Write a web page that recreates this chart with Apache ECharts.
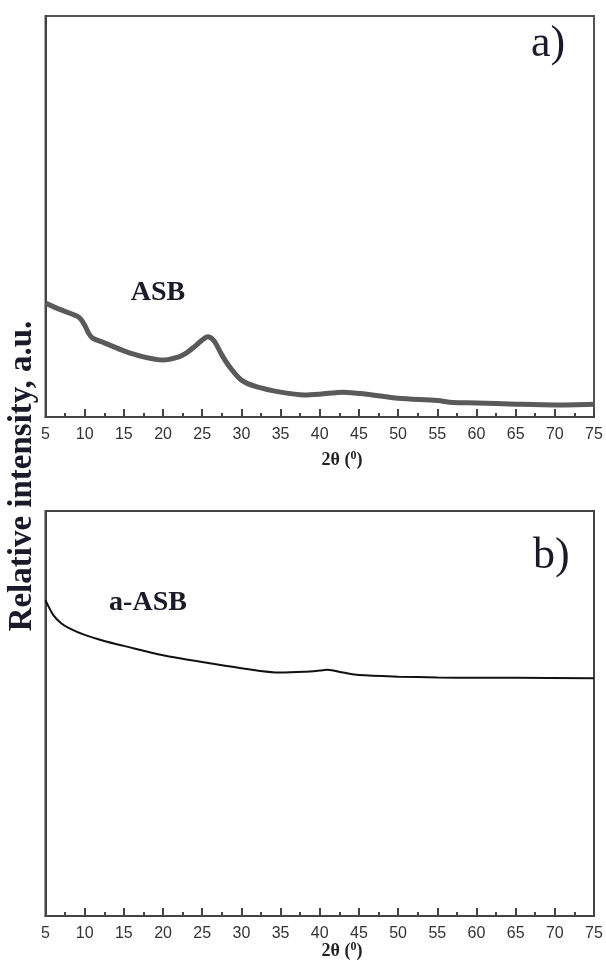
<!DOCTYPE html>
<html>
<head>
<meta charset="utf-8">
<script src="https://cdn.jsdelivr.net/npm/echarts@6/dist/echarts.min.js"></script>
<style>
    html, body { margin: 0; padding: 0; background: #fff; }
    #chart { width: 606px; height: 961px; }
</style>
</head>
<body>
<div id="chart"></div>
<script>
    // ASB (panel a)
    var xA = [5, 7, 9, 9.5, 10, 10.5, 11, 12.5, 15, 17.5, 20, 22, 23, 24, 25, 25.7, 26.5, 27.5, 28.5,
              30, 32, 35, 38, 40, 43, 46, 50, 55, 57, 60, 65, 70, 75];
    var yA = [28.4, 26.7, 25.2, 24.4, 22.9, 20.9, 19.7, 18.5, 16.5, 15.0, 14.2, 15.0, 16.0, 17.5, 19.2, 20.0, 19.0, 15.5, 12.5,
              9.2, 7.5, 6.2, 5.5, 5.7, 6.2, 5.7, 4.7, 4.1, 3.6, 3.5, 3.2, 3.0, 3.2];
    // a-ASB (panel b)
    var xB = [5, 6, 7, 8, 10, 12.5, 15, 20, 25, 30, 35, 38, 40, 41, 43, 45, 50, 55, 60, 65, 75];
    var yB = [78.0, 74.3, 72.3, 71.1, 69.4, 67.9, 66.7, 64.4, 62.7, 61.2, 60.1, 60.3, 60.6, 60.8, 60.1, 59.5, 59.1, 58.9, 58.8, 58.8, 58.7];

    var xTicks = [5, 10, 15, 20, 25, 30, 35, 40, 45, 50, 55, 60, 65, 70, 75];

    function pairs(x, y) {
        var d = [];
        for (var i = 0; i < x.length; i++) d.push([x[i], y[i]]);
        return d;
    }

    function xAxisOf(gi) {
        return {
            gridIndex: gi,
            type: 'value',
            min: xTicks[0],
            max: xTicks[xTicks.length - 1],
            interval: 5,
            axisLine: { show: true, lineStyle: { color: '#444', width: 2 } },
            axisTick: { show: true, inside: true, length: 8, lineStyle: { color: '#444', width: 2 } },
            minorTick: { show: true, splitNumber: 2, length: 4, lineStyle: { color: '#444', width: 2 } },
            axisLabel: { show: true, margin: 10, color: '#333', fontSize: 16, fontFamily: 'Liberation Sans, Arial',
                showMinLabel: true, showMaxLabel: true },
            splitLine: { show: false }
        };
    }

    function yAxisOf(gi) {
        return {
            gridIndex: gi,
            type: 'value',
            min: 0,
            max: 100,
            axisLine: { show: true, lineStyle: { color: '#444', width: 2 } },
            axisTick: { show: false },
            axisLabel: { show: false },
            splitLine: { show: false }
        };
    }

    var serif = 'Liberation Serif, Times New Roman, serif';

    function xName(y) {
        return {
            type: 'text', x: 342, y: y,
            style: {
                text: '2θ ({s|0})', font: 'bold 18px ' + serif, fill: '#222', align: 'center', verticalAlign: 'middle',
                rich: { s: { font: 'bold 12px ' + serif, fill: '#222', verticalAlign: 'top', padding: [0, 0, 8, 0] } }
            }
        };
    }

    var option = {
        backgroundColor: '#fff',
        animation: false,
        grid: [
            { left: 45.5, width: 548.5, top: 16, height: 401, show: true, borderColor: '#555', borderWidth: 2 },
            { left: 45.5, width: 548.5, top: 511, height: 405, show: true, borderColor: '#444', borderWidth: 2 }
        ],
        xAxis: [xAxisOf(0), xAxisOf(1)],
        yAxis: [yAxisOf(0), yAxisOf(1)],
        series: [
            {
                name: 'ASB', type: 'line', xAxisIndex: 0, yAxisIndex: 0,
                data: pairs(xA, yA), showSymbol: false, smooth: 0.3,
                lineStyle: { color: '#5a5a5a', width: 5 }
            },
            {
                name: 'a-ASB', type: 'line', xAxisIndex: 1, yAxisIndex: 1,
                data: pairs(xB, yB), showSymbol: false, smooth: 0.3,
                lineStyle: { color: '#111', width: 2 }
            }
        ],
        graphic: [
            { type: 'text', left: 531, top: 22, style: { text: 'a)', font: '44px ' + serif, fill: '#1a1a2a' } },
            { type: 'text', left: 533, top: 534, style: { text: 'b)', font: '44px ' + serif, fill: '#1a1a2a' } },
            { type: 'text', x: 158, y: 293, style: { text: 'ASB', font: 'bold 28px ' + serif, fill: '#1a1a2a', align: 'center', verticalAlign: 'middle' } },
            { type: 'text', x: 148, y: 603, style: { text: 'a-ASB', font: 'bold 28px ' + serif, fill: '#1a1a2a', align: 'center', verticalAlign: 'middle' } },
            {
                type: 'text', x: 22, y: 476, rotation: Math.PI / 2,
                style: { text: 'Relative intensity, a.u.', font: 'bold 33px ' + serif, fill: '#1a1a2a', align: 'center', verticalAlign: 'middle' }
            },
            xName(460),
            xName(951)
        ]
    };

    echarts.init(document.getElementById('chart')).setOption(option);
</script>
</body>
</html>
